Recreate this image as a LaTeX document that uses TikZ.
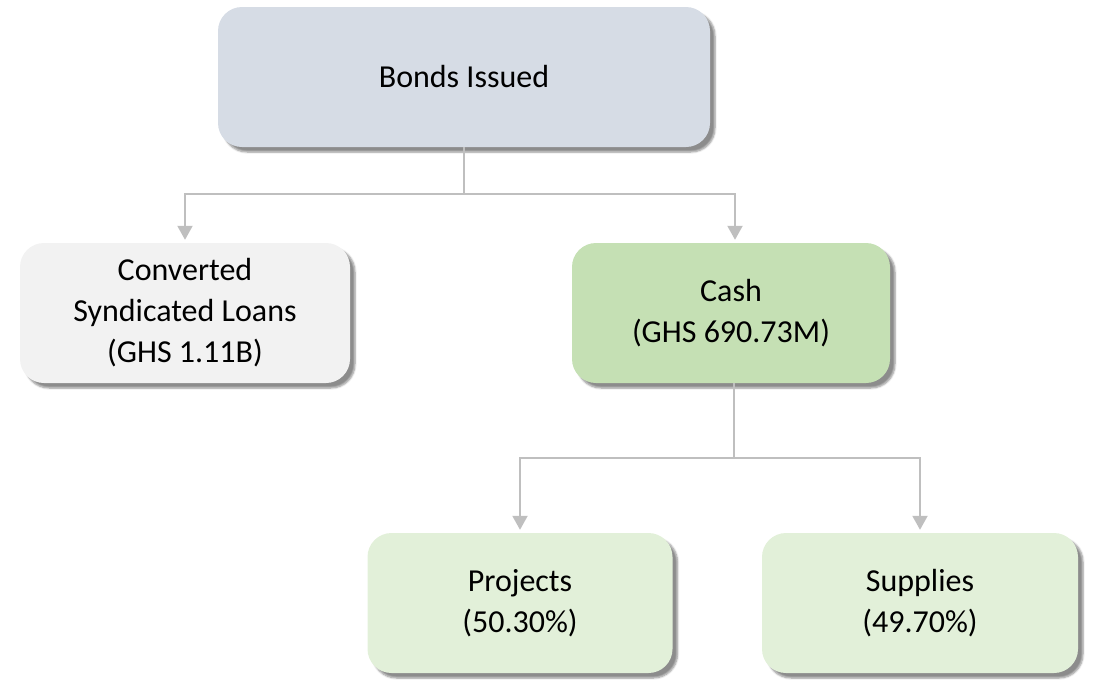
\documentclass[tikz,border=0pt]{standalone}
\usepackage{fontspec}
\setmainfont{Carlito}
\usetikzlibrary{arrows.meta,shadows.blur}
\definecolor{bondfill}{HTML}{D6DCE5}
\definecolor{convfill}{HTML}{F2F2F2}
\definecolor{cashfill}{HTML}{C5E0B4}
\definecolor{leaffill}{HTML}{E2F0D9}
\definecolor{linegray}{HTML}{BFBFBF}
\tikzset{
  box/.style={rectangle, rounded corners=24pt, align=center, inner sep=0pt,
    font=\fontsize{32}{41}\selectfont,
    blur shadow={shadow xshift=5pt, shadow yshift=-5pt, shadow blur steps=6, shadow blur extra rounding=2pt, shadow opacity=45}},
  conn/.style={draw=linegray, line width=2pt},
  arr/.style={conn, -{Triangle[width=15pt,length=14pt]}, shorten >=3pt},
}
\begin{document}
\begin{tikzpicture}[x=1pt,y=-1pt]
\useasboundingbox (0,0) rectangle (1107,681);
\node[box, fill=bondfill, minimum width=492pt, minimum height=140pt] (bonds) at (464,77) {Bonds Issued};
\node[box, fill=convfill, minimum width=330pt, minimum height=140pt] (conv) at (185,313) {Converted\\Syndicated Loans\\(GHS 1.11B)};
\node[box, fill=cashfill, minimum width=318pt, minimum height=140pt] (cash) at (731,313) {Cash\\(GHS 690.73M)};
\node[box, fill=leaffill, minimum width=305pt, minimum height=140pt] (proj) at (520,603) {Projects\\(50.30\%)};
\node[box, fill=leaffill, minimum width=316pt, minimum height=140pt] (supp) at (920,603) {Supplies\\(49.70\%)};
\coordinate (j1) at (464,194);
\coordinate (j2) at (734,458);
\draw[conn] (bonds.south) -- (j1);
\draw[arr] (j1) -| (conv.north);
\draw[arr] (j1) -| ([xshift=4pt]cash.north);
\draw[conn] ([xshift=3pt]cash.south) -- (j2);
\draw[arr] (j2) -| (proj.north);
\draw[arr] (j2) -| (supp.north);
\end{tikzpicture}
\end{document}
